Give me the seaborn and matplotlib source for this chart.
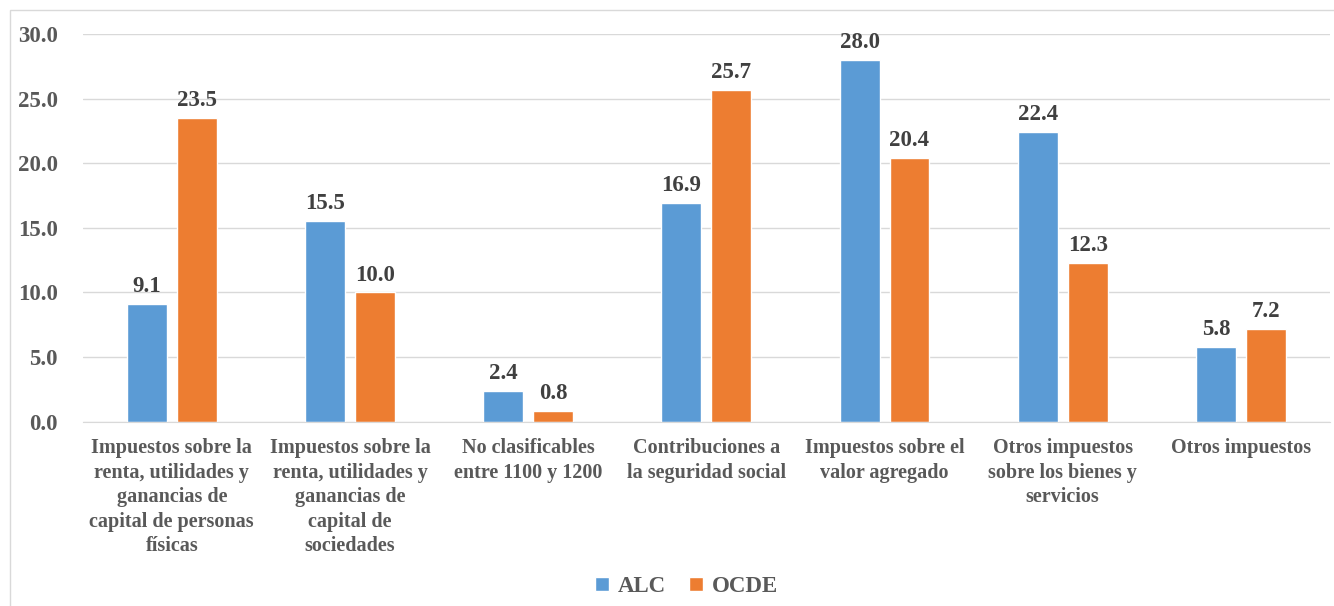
import numpy as np
import pandas as pd
import matplotlib
matplotlib.use('Agg')
import matplotlib.pyplot as plt
import seaborn as sns

# data
categories = [
    'Impuestos sobre la\nrenta, utilidades y\nganancias de\ncapital de personas\nfísicas',
    'Impuestos sobre la\nrenta, utilidades y\nganancias de\ncapital de\nsociedades',
    'No clasificables\nentre 1100 y 1200',
    'Contribuciones a\nla seguridad social',
    'Impuestos sobre el\nvalor agregado',
    'Otros impuestos\nsobre los bienes y\nservicios',
    'Otros impuestos',
]
alc = [9.1, 15.5, 2.4, 16.9, 28.0, 22.4, 5.8]
ocde = [23.5, 10.0, 0.8, 25.7, 20.4, 12.3, 7.2]
series = ['ALC', 'OCDE']
colors = ['#5B9BD5', '#ED7D31']
yticks = [0, 5, 10, 15, 20, 25, 30]

df = pd.DataFrame({
    'cat': categories * 2,
    'serie': ['ALC'] * len(categories) + ['OCDE'] * len(categories),
    'valor': alc + ocde,
})

sns.set_style('white')
plt.rcParams['font.family'] = ['Liberation Serif', 'DejaVu Serif']
plt.rcParams['font.weight'] = 'bold'

fig = plt.figure(figsize=(13.34, 6.06), dpi=100)
ax = fig.add_axes([0.062, 0.304, 0.935, 0.64])

sns.barplot(data=df, x='cat', y='valor', hue='serie', order=categories,
            hue_order=series, palette=colors, width=0.56, gap=0.2,
            saturation=1, ax=ax, legend=True)

for cont in ax.containers:
    ax.bar_label(cont, fmt='%.1f', padding=5, fontsize=16.5, fontweight='bold',
                 color='#404040', clip_on=False)

ax.set_ylim(0, 30)
ax.set_yticks(yticks)
ax.set_yticklabels([f'{v:.1f}' for v in yticks])
ax.yaxis.grid(True, color='#D9D9D9', linewidth=1)
ax.set_axisbelow(True)
ax.set_xlabel('')
ax.set_ylabel('')
for s in ['left', 'right', 'top']:
    ax.spines[s].set_visible(False)
ax.spines['bottom'].set_color('#D9D9D9')
ax.tick_params(axis='y', length=0, labelsize=16.5, labelcolor='#595959', pad=18)
ax.tick_params(axis='x', length=0, labelsize=14.5, labelcolor='#595959', pad=12)
for lbl in ax.get_xticklabels():
    lbl.set_linespacing(1.3)

ax.legend(loc='upper center', bbox_to_anchor=(0.484, -0.345), ncol=2, frameon=False,
          fontsize=16.5, handlelength=0.6, handleheight=0.6, handletextpad=0.4,
          columnspacing=1.0, labelcolor='#595959')

# outer chart border
fig.add_artist(plt.Rectangle((10 / 1334, -0.01), 1.0, 1 - 10 / 606 + 0.01,
                             transform=fig.transFigure, fill=False,
                             edgecolor='#D9D9D9', linewidth=1))

fig.savefig('out.png', dpi=100)
